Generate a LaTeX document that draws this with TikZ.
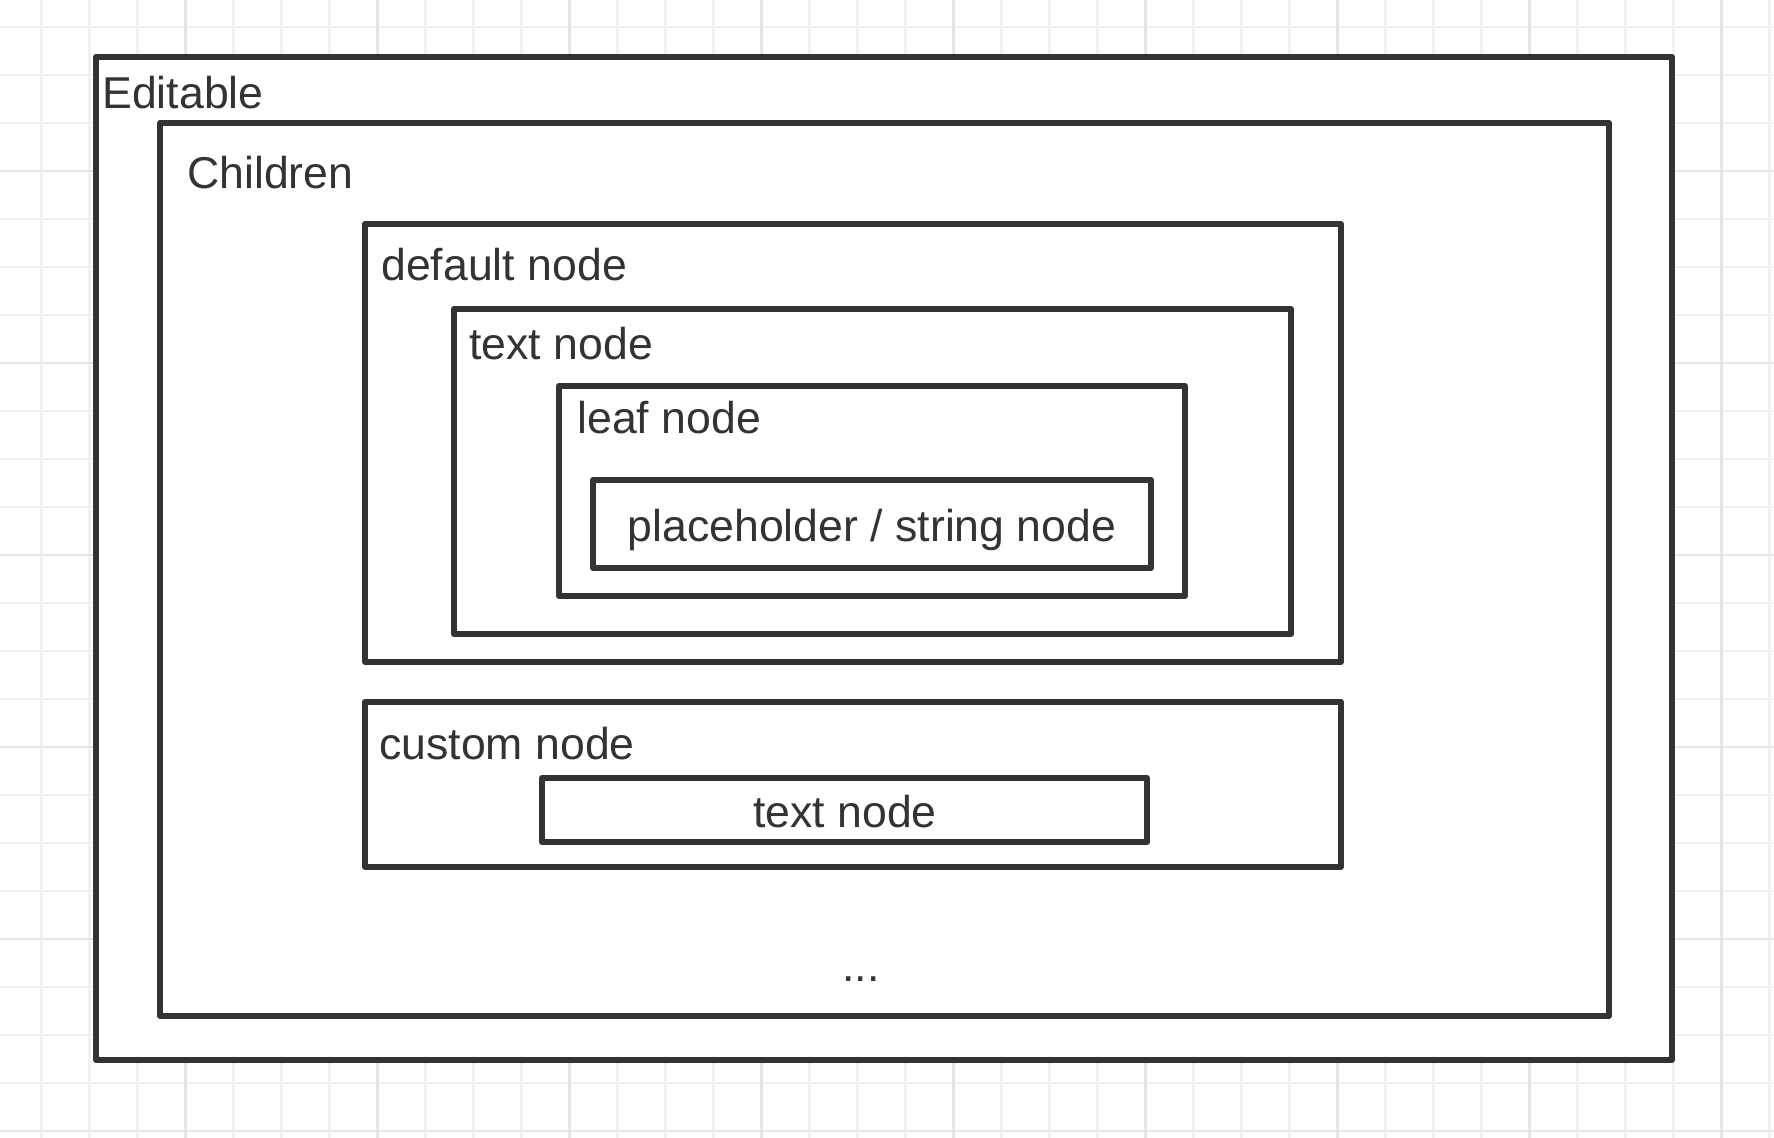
\documentclass[tikz,border=0pt]{standalone}
\usepackage{fontspec}
\setmainfont{Liberation Sans}
\usetikzlibrary{positioning}
\definecolor{ink}{HTML}{333333}
\definecolor{gridlight}{HTML}{F1F1F1}
\definecolor{griddark}{HTML}{E6E6E6}

\begin{document}
\begin{tikzpicture}[
    x=0.5pt, y=-0.5pt,
    box/.style={draw=ink, line width=2.9pt, fill=white, line join=round},
    every node/.style={
        text=ink,
        inner sep=0,
        font=\fontsize{22.3}{26}\selectfont
    },
    lbl/.style={anchor=base west},
    mid/.style={anchor=base}
]
\useasboundingbox (0,0) rectangle (1774,1138);
\fill[white] (0,0) rectangle (1774,1138);

% grid
\foreach \k in {0,...,36}
    \draw[gridlight, line width=1.25pt] (41.3 + 48*\k, 0) -- (41.3 + 48*\k, 1138);
\foreach \k in {0,...,23}
    \draw[gridlight, line width=1.25pt] (0, 27 + 48*\k) -- (1774, 27 + 48*\k);
\foreach \k in {3,7,...,35}
    \draw[griddark, line width=1.25pt] (41.3 + 48*\k, 0) -- (41.3 + 48*\k, 1138);
\foreach \k in {3,7,...,23}
    \draw[griddark, line width=1.25pt] (0, 27 + 48*\k) -- (1774, 27 + 48*\k);

% boxes
\draw[box] (96,57) rectangle (1672,1060);
\draw[box] (160,123) rectangle (1609,1016);
\draw[box] (365,224) rectangle (1341,662);
\draw[box] (454,309) rectangle (1291,634);
\draw[box] (559,386) rectangle (1185,596);
\draw[box] (593,480) rectangle (1151,568);
\draw[box] (365,702) rectangle (1341,867);
\draw[box] (542,778) rectangle (1147,842);

% labels
\node[lbl] (editable) at (102,109) {Editable};
\node[lbl] (children) at (187,189) {Children};
\node[lbl] (default) at (381,281) {default node};
\node[lbl] (text) at (469,360) {text node};
\node[lbl] (leaf) at (577,434) {leaf node};
\node[mid] (placeholder) at (872,542) {placeholder / string node};
\node[lbl] (custom) at (379,760) {custom node};
\node[mid] (customtext) at (845,828) {text node};
\node[mid] (more) at (861,981) {...};

\end{tikzpicture}
\end{document}
